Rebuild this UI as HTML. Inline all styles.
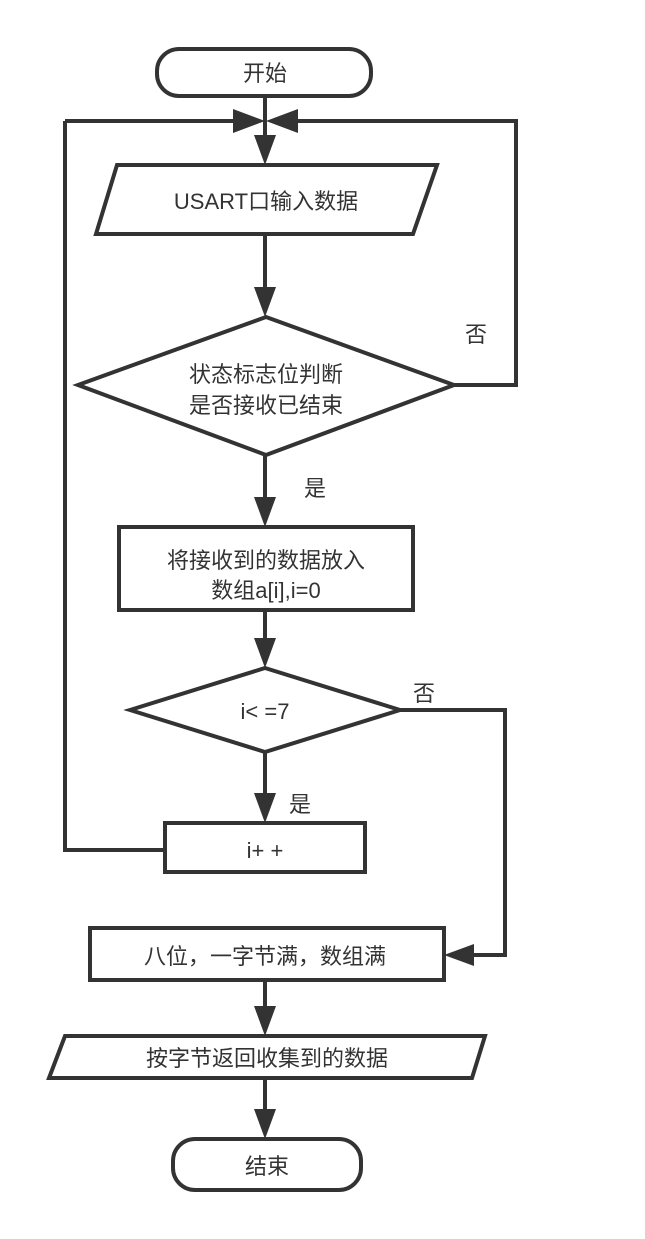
<!DOCTYPE html>
<html><head><meta charset="utf-8"><style>
body{margin:0;background:#fff}
svg{display:block}
text{font-family:"Liberation Sans","Noto Sans CJK SC",sans-serif;font-size:22px;fill:#333;text-anchor:middle}
</style></head><body>
<svg width="645" height="1239" viewBox="0 0 645 1239">
<g fill="none" stroke="#333" stroke-width="4">
<rect x="157" y="49" width="214" height="47" rx="22"/>
<polygon points="117,165 437,165 413,234 96,234"/>
<polygon points="266,317 454,385 266,455 78,385"/>
<rect x="119" y="527" width="294" height="83"/>
<polygon points="265,668 400,710 265,752 130,710"/>
<rect x="165" y="823" width="200" height="49"/>
<rect x="90" y="928" width="354" height="52"/>
<polygon points="65,1036 485,1036 472,1078 49,1078"/>
<rect x="173" y="1139" width="188" height="51" rx="22"/>
<polyline points="265,96 265,140"/>
<polyline points="65,121 235,121"/>
<polyline points="298,121 516,121 516,385 454,385"/>
<polyline points="65,121 65,850 165,850"/>
<polyline points="265,234 265,290"/>
<polyline points="265,455 265,500"/>
<polyline points="265,610 265,650"/>
<polyline points="265,752 265,800"/>
<polyline points="400,710 505,710 505,955 470,955"/>
<polyline points="265,980 265,1012"/>
<polyline points="265,1078 265,1114"/>
</g>
<g fill="#333">
<polygon points="233,109 265,121 233,133"/>
<polygon points="298,109 266,121 298,133"/>
<polygon points="254,135 276,135 265,165"/>
<polygon points="254,287 276,287 265,317"/>
<polygon points="254,497 276,497 265,527"/>
<polygon points="254,638 276,638 265,668"/>
<polygon points="254,793 276,793 265,823"/>
<polygon points="474,944 474,966 444,955"/>
<polygon points="254,1006 276,1006 265,1036"/>
<polygon points="254,1109 276,1109 265,1139"/>
</g>
<text x="265" y="81">开始</text>
<text x="266" y="209">USART口输入数据</text>
<text x="266" y="382">状态标志位判断</text>
<text x="266" y="413">是否接收已结束</text>
<text x="476" y="342">否</text>
<text x="315" y="496">是</text>
<text x="266" y="568">将接收到的数据放入</text>
<text x="266" y="598">数组a[i],i=0</text>
<text x="265" y="719">i&lt; =7</text>
<text x="424" y="701">否</text>
<text x="300" y="812">是</text>
<text x="265" y="858">i+ +</text>
<text x="265" y="964">八位，一字节满，数组满</text>
<text x="267" y="1066">按字节返回收集到的数据</text>
<text x="267" y="1174">结束</text>
</svg>
</body></html>
